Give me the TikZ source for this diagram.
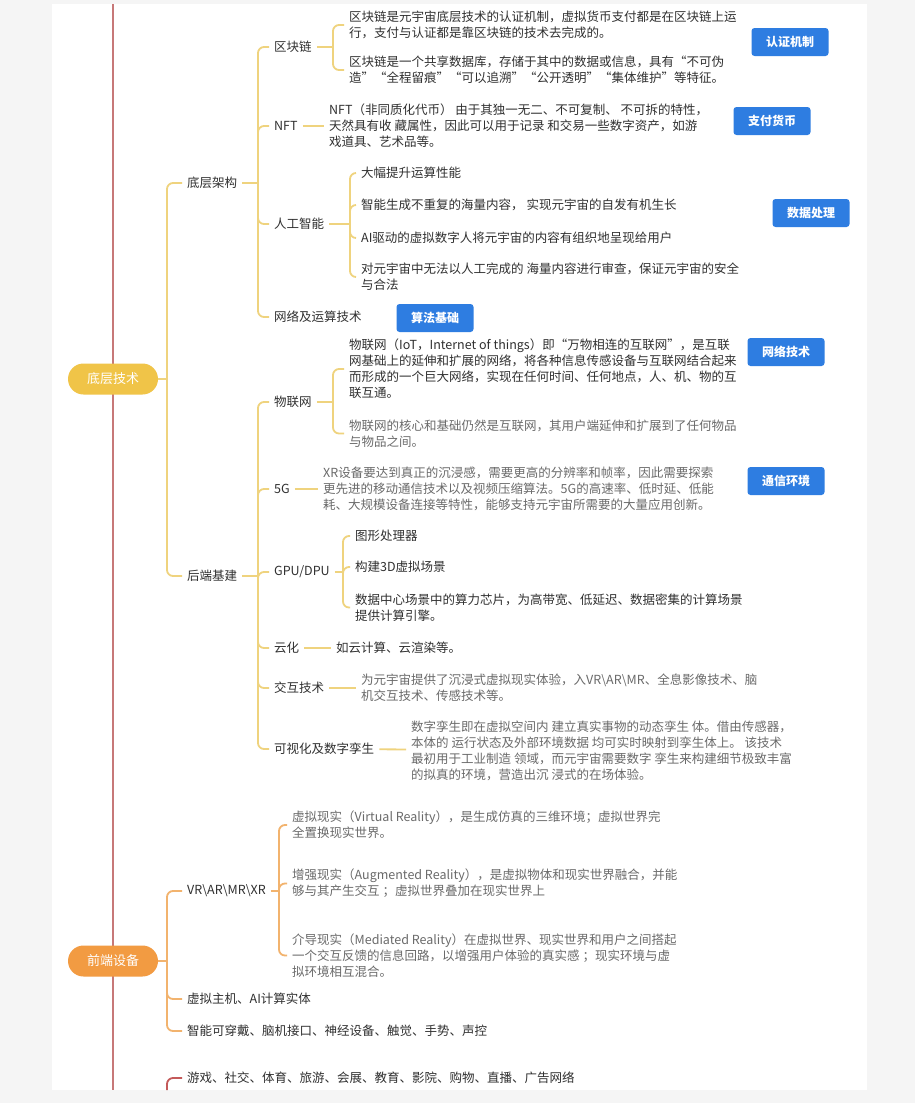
\documentclass[tikz,border=0pt]{standalone}
\usepackage{fontspec}
\newfontfamily\cjk{Noto Sans CJK SC}
\definecolor{trunk}{HTML}{C77878}
\definecolor{trunkd}{HTML}{C45A5A}
\definecolor{yel}{HTML}{EFD37E}
\definecolor{yelpill}{HTML}{F0C448}
\definecolor{org}{HTML}{F2B36E}
\definecolor{orgpill}{HTML}{F29B42}
\definecolor{badge}{HTML}{2E7DE1}
\definecolor{txt}{HTML}{303030}
\definecolor{txtl}{HTML}{6A6A6A}

\begin{document}
\begin{tikzpicture}[x=1pt,y=-1pt,
    lbl/.style={inner xsep=5pt, inner ysep=1pt, anchor=west, text=txt, font=\cjk\fontsize{12.5}{16}\selectfont},
    para/.style={lbl, align=left},
    grey/.style={text=txtl},
    pill/.style={rounded corners=15.5pt, minimum width=90pt, minimum height=31pt, text=white, font=\cjk\fontsize{13}{15}\selectfont},
    tag/.style={fill=badge, rounded corners=3pt, minimum width=77pt, minimum height=28pt, text=white, font=\cjk\bfseries\fontsize{12}{14}\selectfont},
    yl/.style={draw=yel, line width=1.8pt, rounded corners=6pt},
    ol/.style={draw=org, line width=1.8pt, rounded corners=6pt}]

            \fill[black!4] (0,0) rectangle (915,1103);
            \fill[white] (52,4) rectangle (867,1090);
            \draw[trunk, line width=2.5pt] (113,4) -- (113,1090);

            \node[pill, fill=yelpill] (dc) at (113,379) {底层技术};
            \node[pill, fill=orgpill] (qd) at (113,961) {前端设备};

            \node[lbl] (jg) at (182,183) {底层架构};
            \node[lbl] (hd) at (182,576) {后端基建};
            \coordinate (j0) at (167,379);
            \draw[yl] (dc.east) -- (j0);
            \draw[yl] (j0) |- (jg.west);
            \draw[yl] (j0) |- (hd.west);

            \node[lbl] (qkl) at (269,47) {区块链};
            \node[lbl] (nft) at (269,126) {NFT};
            \node[lbl] (rg) at (269,224) {人工智能};
            \node[lbl] (wl) at (269,317) {网络及运算技术};
            \coordinate (j1) at (258,183);
            \draw[yl] (jg.east) -- (j1);
            \foreach \c in {qkl,nft,rg,wl}
                \draw[yl] (j1) |- (\c.west);

            \node[para] (qk1) at (344,25) {区块链是元宇宙底层技术的认证机制，虚拟货币支付都是在区块链上运\\行，支付与认证都是靠区块链的技术去完成的。};
            \node[para] (qk2) at (344,70) {区块链是一个共享数据库，存储于其中的数据或信息，具有“不可伪\\造”“全程留痕”“可以追溯”“公开透明”“集体维护”等特征。};
            \coordinate (j2) at (333,47);
            \draw[yl] (qkl.east) -- (j2);
            \draw[yl] (j2) |- (qk1.west);
            \draw[yl] (j2) |- (qk2.west);

            \node[para] (nftt) at (324,126) {NFT（非同质化代币） 由于其独一无二、不可复制、 不可拆的特性，\\天然具有收 藏属性，因此可以用于记录 和交易一些数字资产，如游\\戏道具、艺术品等。};
            \draw[yl] (nft) -- (nftt);

            \node[lbl] (ai1) at (356,173) {大幅提升运算性能};
            \node[lbl] (ai2) at (356,205) {智能生成不重复的海量内容， 实现元宇宙的自发有机生长};
            \node[lbl] (ai3) at (356,238) {AI驱动的虚拟数字人将元宇宙的内容有组织地呈现给用户};
            \node[para] (ai4) at (356,277) {对元宇宙中无法以人工完成的 海量内容进行审查，保证元宇宙的安全\\与合法};
            \coordinate (j3) at (350,224);
            \draw[yl] (rg.east) -- (j3);
            \foreach \c in {ai1,ai2,ai3,ai4}
                \draw[yl] (j3) |- (\c.west);

            \node[tag] (rz) at (790,42) {认证机制};
            \node[tag] (zf) at (772,121) {支付货币};
            \node[tag] (sj) at (811,213) {数据处理};
            \node[tag] (sf) at (435,318) {算法基础};
            \node[tag] (wj) at (786,352) {网络技术};
            \node[tag] (tx) at (786,481) {通信环境};

            \node[lbl] (wlw) at (269,402) {物联网};
            \node[lbl] (g5) at (269,489) {5G};
            \node[lbl] (gpu) at (269,572) {GPU/DPU};
            \node[lbl] (yh) at (269,648) {云化};
            \node[lbl] (jh) at (269,688) {交互技术};
            \node[lbl] (ksh) at (269,749) {可视化及数字孪生};
            \coordinate (j4) at (258,576);
            \draw[yl] (hd.east) -- (j4);
            \foreach \c in {wlw,g5,gpu,yh,jh,ksh}
                \draw[yl] (j4) |- (\c.west);

            \node[para] (iot1) at (344,369) {物联网（IoT，Internet of things）即“万物相连的互联网”，是互联\\网基础上的延伸和扩展的网络，将各种信息传感设备与互联网结合起来\\而形成的一个巨大网络，实现在任何时间、任何地点，人、机、物的互\\联互通。};
            \node[para, grey] (iot2) at (344,433.5) {物联网的核心和基础仍然是互联网，其用户端延伸和扩展到了任何物品\\与物品之间。};
            \coordinate (j5) at (333,402);
            \draw[yl] (wlw.east) -- (j5);
            \draw[yl] (j5) |- (iot1.west);
            \draw[yl] (j5) |- (iot2.west);

            \node[para, grey] (g5t) at (318,489) {XR设备要达到真正的沉浸感，需要更高的分辨率和帧率，因此需要探索\\更先进的移动通信技术以及视频压缩算法。5G的高速率、低时延、低能\\耗、大规模设备连接等特性，能够支持元宇宙所需要的大量应用创新。};
            \draw[yl] (g5) -- (g5t);

            \node[lbl] (gp1) at (350,536) {图形处理器};
            \node[lbl] (gp2) at (350,567) {构建3D虚拟场景};
            \node[para] (gp3) at (350,607.5) {数据中心场景中的算力芯片，为高带宽、低延迟、数据密集的计算场景\\提供计算引擎。};
            \coordinate (j6) at (343,572);
            \draw[yl] (gpu.east) -- (j6);
            \foreach \c in {gp1,gp2,gp3}
                \draw[yl] (j6) |- (\c.west);

            \node[lbl] (yht) at (331,648) {如云计算、云渲染等。};
            \draw[yl] (yh) -- (yht);
            \node[para, grey] (jht) at (356,688) {为元宇宙提供了沉浸式虚拟现实体验，入VR\textbackslash AR\textbackslash MR、全息影像技术、脑\\机交互技术、传感技术等。};
            \draw[yl] (jh) -- (jht);
            \node[para, grey] (ksht) at (406,750.5) {数字孪生即在虚拟空间内 建立真实事物的动态孪生 体。借由传感器，\\本体的 运行状态及外部环境数据 均可实时映射到孪生体上。 该技术\\最初用于工业制造 领域，而元宇宙需要数字 孪生来构建细节极致丰富\\的拟真的环境，营造出沉 浸式的在场体验。};
            \draw[yl] (ksh) -- (ksht);

            \node[lbl] (vr) at (182,891) {VR\textbackslash AR\textbackslash MR\textbackslash XR};
            \node[lbl] (xn) at (182,999) {虚拟主机、AI计算实体};
            \node[lbl] (zn) at (182,1031) {智能可穿戴、脑机接口、神经设备、触觉、手势、声控};
            \coordinate (j7) at (167,961);
            \draw[ol] (qd.east) -- (j7);
            \foreach \c in {vr,xn,zn}
                \draw[ol] (j7) |- (\c.west);

            \node[para, grey] (vr1) at (287,825) {虚拟现实（Virtual Reality），是生成仿真的三维环境；虚拟世界完\\全置换现实世界。};
            \node[para, grey] (vr2) at (287,883.5) {增强现实（Augmented Reality），是虚拟物体和现实世界融合，并能\\够与其产生交互 ；虚拟世界叠加在现实世界上};
            \node[para, grey] (vr3) at (287,955.5) {介导现实（Mediated Reality）在虚拟世界、现实世界和用户之间搭起\\一个交互反馈的信息回路，以增强用户体验的真实感 ；现实环境与虚\\拟环境相互混合。};
            \coordinate (j8) at (279,891);
            \draw[ol] (vr.east) -- (j8);
            \foreach \c in {vr1,vr2,vr3}
                \draw[ol] (j8) |- (\c.west);

            \node[lbl] (yx) at (182,1078) {游戏、社交、体育、旅游、会展、教育、影院、购物、直播、广告网络};
            \coordinate (j9) at (167,1090);
            \draw[trunkd, line width=1.8pt, rounded corners=6pt] (j9) |- (yx.west);
\end{tikzpicture}
\end{document}
